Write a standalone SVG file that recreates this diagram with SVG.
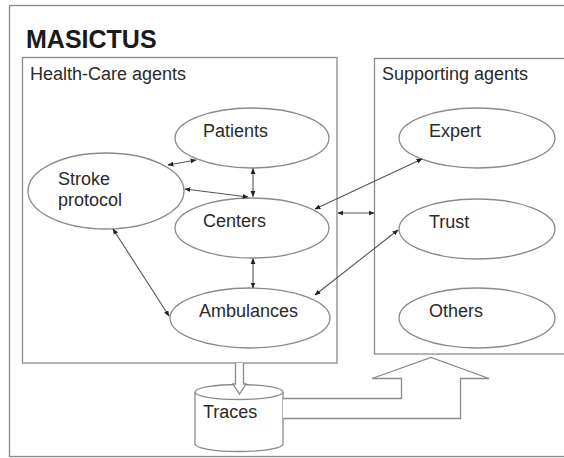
<svg xmlns="http://www.w3.org/2000/svg" width="564" height="458" viewBox="0 0 564 458">
<defs>
<style>
text{font-family:"Liberation Sans",Arial,sans-serif;fill:#2a2a2a;font-size:18px}
.title{font-size:25px;font-weight:bold;fill:#1a1a1a}
.box{fill:none;stroke:#8a8a8a;stroke-width:1.3}
.el{fill:#fff;stroke:#8a8a8a;stroke-width:1.3}
.con{stroke:#555;stroke-width:1.1;fill:none;marker-start:url(#ah);marker-end:url(#ah)}
.blk{fill:#fff;stroke:#8a8a8a;stroke-width:1.3}
</style>
<marker id="ah" viewBox="0 0 10 10" refX="9" refY="5" markerWidth="6" markerHeight="6" markerUnits="userSpaceOnUse" orient="auto-start-reverse">
<path d="M0,1 L10,5 L0,9 z" fill="#222"/>
</marker>
</defs>
<rect width="564" height="458" fill="#fff"/>
<g id="frame">
<rect x="9.5" y="5.5" width="600" height="451" class="box" stroke="#aaa"/>
<text x="26" y="48" class="title">MASICTUS</text>
</g>
<g id="health-care-agents">
<rect x="22.5" y="57.5" width="314.5" height="305.5" class="box"/>
<text x="30" y="80">Health-Care agents</text>
</g>
<g id="supporting-agents">
<rect x="374.5" y="58.5" width="240" height="295.5" class="box"/>
<text x="382" y="80">Supporting agents</text>
</g>
<g id="patients">
<ellipse cx="252" cy="138" rx="77" ry="30" class="el"/>
<text x="203" y="137">Patients</text>
</g>
<g id="stroke-protocol">
<ellipse cx="106" cy="191" rx="78" ry="38" class="el"/>
<text x="58" y="185">Stroke</text>
<text x="58" y="206">protocol</text>
</g>
<g id="centers">
<ellipse cx="252" cy="228" rx="77" ry="30" class="el"/>
<text x="203" y="227">Centers</text>
</g>
<g id="ambulances">
<ellipse cx="250" cy="318" rx="80" ry="30" class="el"/>
<text x="199" y="317">Ambulances</text>
</g>
<g id="expert">
<ellipse cx="477" cy="138" rx="78" ry="30" class="el"/>
<text x="429" y="137">Expert</text>
</g>
<g id="trust">
<ellipse cx="477" cy="229" rx="78" ry="30" class="el"/>
<text x="429" y="228">Trust</text>
</g>
<g id="others">
<ellipse cx="477" cy="318" rx="78" ry="30" class="el"/>
<text x="429" y="317">Others</text>
</g>
<g id="traces">
<path d="M195,392 L195,444 A44,7.5 0 0 0 283,444 L283,392" class="el"/>
<ellipse cx="239" cy="392" rx="44" ry="7.5" class="el"/>
<text x="203" y="418">Traces</text>
</g>
<g id="connectors">
<line x1="168" y1="165" x2="196" y2="160" class="con"/>
<line x1="185" y1="189" x2="248" y2="197" class="con"/>
<line x1="253" y1="168.5" x2="253" y2="196.5" class="con"/>
<line x1="253" y1="258.5" x2="253" y2="288" class="con"/>
<line x1="113" y1="229" x2="169" y2="316" class="con"/>
<line x1="315" y1="209" x2="422" y2="159" class="con"/>
<line x1="338" y1="213" x2="374" y2="213" class="con"/>
<line x1="315" y1="295" x2="398" y2="230" class="con"/>
<path d="M235.5,363 L235.5,384 L233,384 L239.5,394 L246,384 L243.5,384 L243.5,363" class="blk"/>
<path d="M283,398.5 L401.5,398.5 L401.5,378.5 L372,378.5 L431,357.5 L489,378.5 L460.5,378.5 L460.5,418.5 L283,418.5" class="blk"/>
</g>
</svg>
